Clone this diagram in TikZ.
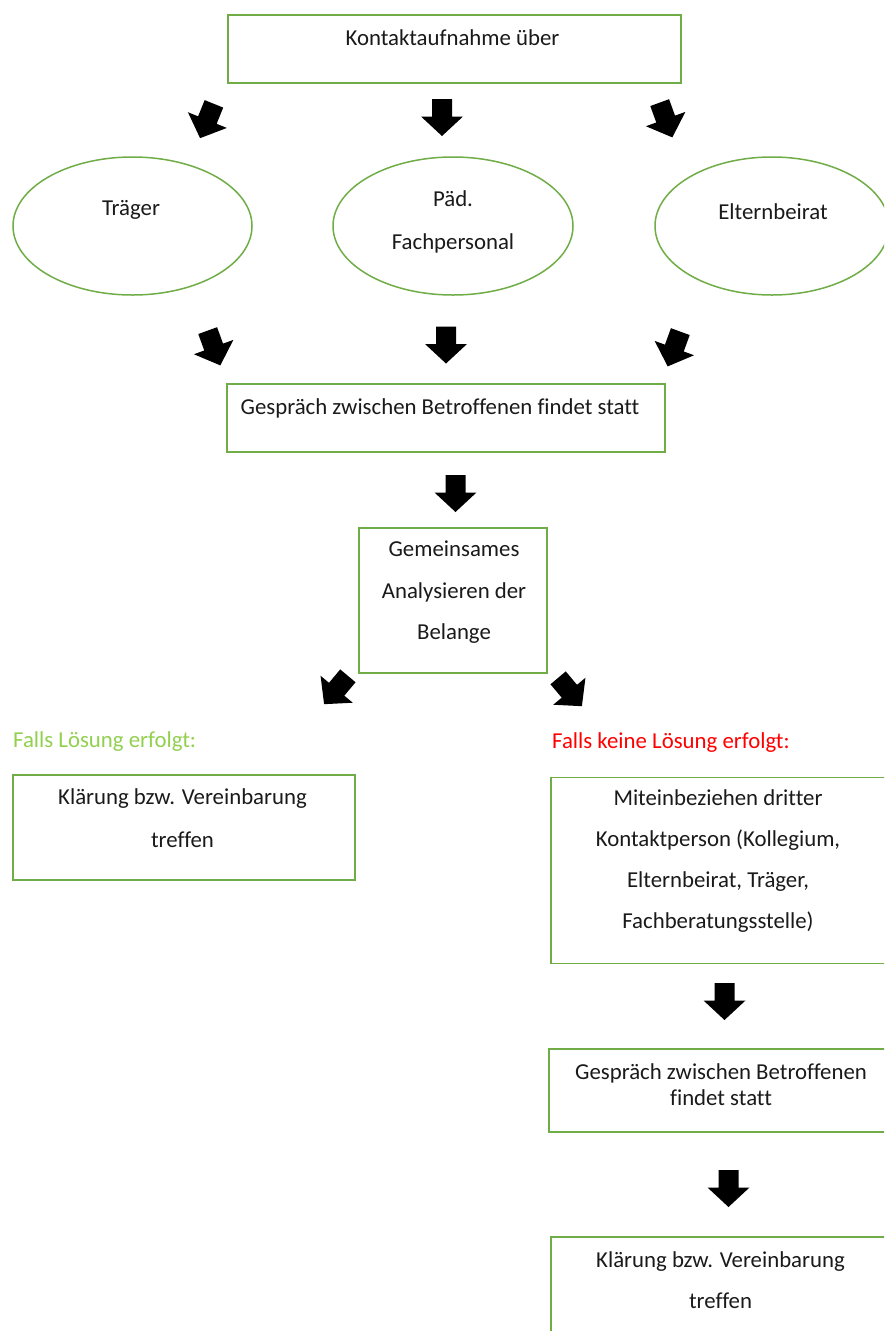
\documentclass[tikz,border=0pt]{standalone}
\usepackage{fontspec}
\setmainfont[Ligatures=NoCommon]{Carlito}
\usetikzlibrary{shapes.geometric}
\definecolor{boxgreen}{HTML}{70AD47}
\definecolor{lightgreen}{HTML}{92D050}
\definecolor{alertred}{HTML}{FF0000}
\definecolor{txtgray}{HTML}{1A1A1A}
\tikzset{
  box/.style={draw=boxgreen, line width=1.5pt, rectangle, inner sep=0pt},
  oval/.style={draw=boxgreen, line width=1.5pt, ellipse, inner sep=0pt},
  txt/.style={align=center, inner sep=0pt, text=txtgray, font=\fontsize{22.8}{42}\selectfont},
  txtsingle/.style={align=center, inner sep=0pt, text=txtgray, font=\fontsize{22.8}{26}\selectfont},
  blockarr/.pic={\fill[black] (-10,-18.5) -- (10,-18.5) -- (10,-1) -- (21,-1) -- (0,18.5) -- (-21,-1) -- (-10,-1) -- cycle;}
}
\begin{document}
\begin{tikzpicture}[x=1pt,y=-1pt]
\useasboundingbox (0,0) rectangle (884,1331);
\clip (0,0) rectangle (884,1331);
\fill[white] (0,0) rectangle (884,1331);

% top box
\node[box, minimum width=453pt, minimum height=68pt] (kontakt) at (454.5,49) {};
\node[txt] (kontaktT) at (452.5,38) {Kontaktaufnahme über};

% arrows row 1
\pic[rotate=-22] (a1) at (207,121) {blockarr};
\pic (a2) at (442,117.5) {blockarr};
\pic[rotate=20] (a3) at (666,120) {blockarr};

% ellipses
\node[oval, minimum width=239pt, minimum height=138pt] (traeger) at (132.5,226) {};
\node[txt] (traegerT) at (131,210) {Träger};
\node[oval, minimum width=240pt, minimum height=138pt] (paed) at (453,226) {};
\node[txt, font=\fontsize{22.8}{43}\selectfont] (paedT) at (453,221.5) {Päd.\\Fachpersonal};
\node[oval, minimum width=234pt, minimum height=138pt] (eltern) at (772,226) {};
\node[txt] (elternT) at (773,212) {Elternbeirat};

% arrows row 2
\pic[rotate=20] (a4) at (214,348) {blockarr};
\pic (a5) at (446,345) {blockarr};
\pic[rotate=-20] (a6) at (674,349) {blockarr};

% box 2
\node[box, minimum width=438pt, minimum height=68pt] (gespraech) at (446,418) {};
\node[txt] (gespraechT) at (440,408) {Gespräch zwischen Betroffenen findet statt};

\pic (a7) at (455.5,493.5) {blockarr};

% box 3
\node[box, minimum width=188pt, minimum height=145pt] (analyse) at (453,600.5) {};
\node[txt, font=\fontsize{22.8}{41.5}\selectfont] (analyseT) at (454,592.5) {Gemeinsames\\Analysieren der\\Belange};

\pic[rotate=-40] (a8) at (336,690) {blockarr};
\pic[rotate=40] (a9) at (570,692) {blockarr};

% branch labels
\node[txt, text=lightgreen, anchor=west] (jaT) at (13,742) {Falls Lösung erfolgt:};
\node[txt, text=alertred, anchor=west] (neinT) at (552,743) {Falls keine Lösung erfolgt:};

% left result box
\node[box, minimum width=342pt, minimum height=105pt] (klaerL) at (184,827.5) {};
\node[txt, font=\fontsize{22.8}{43}\selectfont] (klaerLT) at (182.5,818.5) {Klärung bzw. Vereinbarung\\treffen};

% right column
\node[box, minimum width=369pt, minimum height=186pt] (dritte) at (735.5,870.5) {};
\node[txt, font=\fontsize{22.8}{41}\selectfont] (dritteT) at (718,861.5) {Miteinbeziehen dritter\\Kontaktperson (Kollegium,\\Elternbeirat, Träger,\\Fachberatungsstelle)};

\pic (a10) at (724.5,1001.5) {blockarr};

\node[box, minimum width=371pt, minimum height=83pt] (gespraechR) at (734.5,1090.5) {};
\node[txtsingle] (gespraechRT) at (721,1085) {Gespräch zwischen Betroffenen\\findet statt};

\pic (a11) at (728.5,1188.5) {blockarr};

\node[box, minimum width=369pt, minimum height=140pt] (klaerR) at (735.5,1307) {};
\node[txt, font=\fontsize{22.8}{41}\selectfont] (klaerRT) at (720.5,1280) {Klärung bzw. Vereinbarung\\treffen};
\end{tikzpicture}
\end{document}
